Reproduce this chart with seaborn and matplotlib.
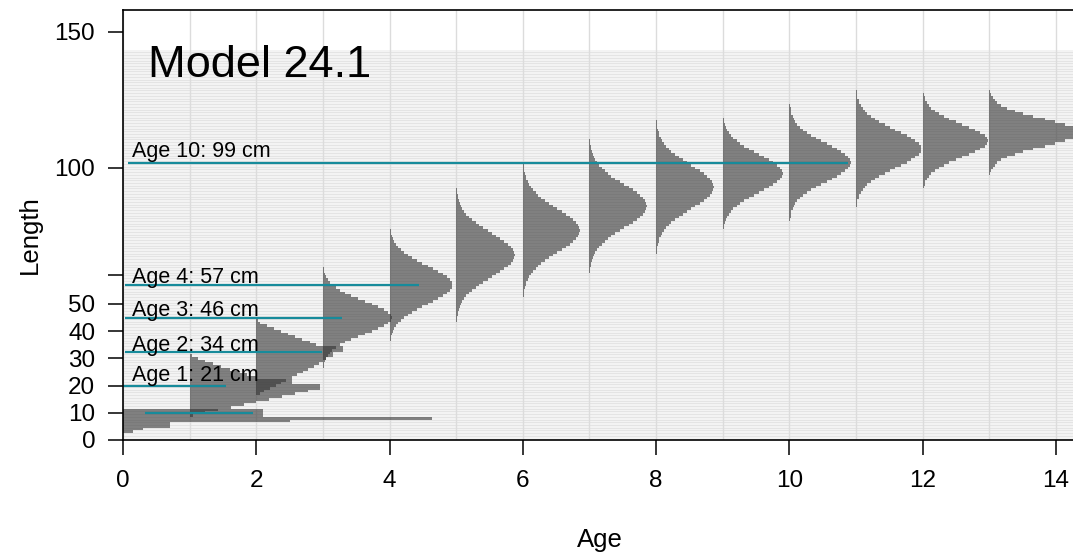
import matplotlib
matplotlib.use("Agg")
import matplotlib.pyplot as plt
import numpy as np
import pandas as pd
import seaborn as sns

# ---------------- data ----------------
ages = list(range(14))
# length (cm) of the first 1-cm bin of each age's length distribution
first_bin = [3, 9, 17, 27, 36, 44, 53, 62, 69, 77, 81, 86, 92, 98]

age0 = [0.15, 0.30, 0.70, 0.70, 2.50, 4.64, 2.10, 2.10, 2.10]
age1 = [0.05, 0.23, 0.42, 0.62, 0.81, 1.00, 1.19, 1.38, 1.58, 1.77, 1.96, 1.96,
        1.54, 1.54, 1.00, 0.86, 0.73, 0.60, 0.47, 0.35, 0.23, 0.12, 0.04]
age2 = [0.05, 0.12, 0.20, 0.29, 0.37, 0.45, 0.53, 0.61, 0.70, 0.78, 0.86, 0.94,
        1.00, 1.05, 1.15, 1.15, 1.30, 1.30, 0.90, 0.80, 0.69, 0.58, 0.47, 0.37,
        0.26, 0.16, 0.06, 0.03]
age3 = [0.01, 0.02, 0.03, 0.05, 0.07, 0.10, 0.14, 0.19, 0.26, 0.33, 0.42, 0.52,
        0.63, 0.73, 0.83, 0.91, 0.97, 1.02, 1.03, 1.02, 0.97, 0.91, 0.83, 0.73,
        0.63, 0.52, 0.42, 0.33, 0.26, 0.19, 0.14, 0.10, 0.07, 0.05, 0.03, 0.02,
        0.01]
age4 = [0.01, 0.02, 0.02, 0.03, 0.05, 0.07, 0.09, 0.13, 0.17, 0.22, 0.27, 0.34,
        0.41, 0.49, 0.57, 0.65, 0.73, 0.80, 0.86, 0.90, 0.93, 0.94, 0.93, 0.90,
        0.86, 0.80, 0.73, 0.65, 0.57, 0.49, 0.41, 0.34, 0.27, 0.22, 0.17, 0.13,
        0.09, 0.07, 0.05, 0.03, 0.02, 0.02, 0.01]
age5 = [0.01, 0.01, 0.02, 0.03, 0.04, 0.05, 0.07, 0.09, 0.12, 0.15, 0.19, 0.23,
        0.29, 0.34, 0.40, 0.47, 0.53, 0.60, 0.66, 0.72, 0.78, 0.82, 0.85, 0.87,
        0.88, 0.87, 0.85, 0.82, 0.78, 0.72, 0.66, 0.60, 0.53, 0.47, 0.40, 0.34,
        0.29, 0.23, 0.19, 0.15, 0.12, 0.09, 0.07, 0.05, 0.04, 0.03, 0.02, 0.01,
        0.01]
age6 = [0.01, 0.01, 0.02, 0.03, 0.04, 0.05, 0.07, 0.09, 0.12, 0.15, 0.19, 0.23,
        0.28, 0.33, 0.39, 0.46, 0.52, 0.59, 0.65, 0.71, 0.76, 0.80, 0.83, 0.85,
        0.86, 0.85, 0.83, 0.80, 0.76, 0.71, 0.65, 0.59, 0.52, 0.46, 0.39, 0.33,
        0.28, 0.23, 0.19, 0.15, 0.12, 0.09, 0.07, 0.05, 0.04, 0.03, 0.02, 0.01,
        0.01]
age7 = [0.01, 0.01, 0.02, 0.03, 0.04, 0.05, 0.07, 0.09, 0.12, 0.15, 0.19, 0.23,
        0.28, 0.33, 0.39, 0.46, 0.52, 0.59, 0.65, 0.71, 0.76, 0.80, 0.83, 0.85,
        0.86, 0.85, 0.83, 0.80, 0.76, 0.71, 0.65, 0.59, 0.52, 0.46, 0.39, 0.33,
        0.28, 0.23, 0.19, 0.15, 0.12, 0.09, 0.07, 0.05, 0.04, 0.03, 0.02, 0.01,
        0.01]
age8 = [0.01, 0.01, 0.02, 0.03, 0.04, 0.05, 0.07, 0.09, 0.12, 0.15, 0.19, 0.23,
        0.28, 0.34, 0.40, 0.46, 0.53, 0.59, 0.66, 0.72, 0.77, 0.81, 0.84, 0.86,
        0.87, 0.86, 0.84, 0.81, 0.77, 0.72, 0.66, 0.59, 0.53, 0.46, 0.40, 0.34,
        0.28, 0.23, 0.19, 0.15, 0.12, 0.09, 0.07, 0.05, 0.04, 0.03, 0.02, 0.01,
        0.01]
age9 = [0.01, 0.02, 0.02, 0.03, 0.05, 0.07, 0.09, 0.12, 0.16, 0.21, 0.26, 0.32,
        0.39, 0.47, 0.55, 0.62, 0.70, 0.76, 0.82, 0.86, 0.89, 0.90, 0.89, 0.86,
        0.82, 0.76, 0.70, 0.62, 0.55, 0.47, 0.39, 0.32, 0.26, 0.21, 0.16, 0.12,
        0.09, 0.07, 0.05, 0.03, 0.02, 0.02, 0.01]
age10 = [0.01, 0.02, 0.02, 0.03, 0.05, 0.07, 0.09, 0.12, 0.16, 0.21, 0.27, 0.33,
         0.40, 0.48, 0.56, 0.64, 0.71, 0.78, 0.84, 0.88, 0.91, 0.92, 0.91, 0.88,
         0.84, 0.78, 0.71, 0.64, 0.56, 0.48, 0.40, 0.33, 0.27, 0.21, 0.16, 0.12,
         0.09, 0.07, 0.05, 0.03, 0.02, 0.02, 0.01]
age11 = [0.01, 0.02, 0.02, 0.04, 0.05, 0.07, 0.10, 0.13, 0.17, 0.23, 0.29, 0.35,
         0.43, 0.51, 0.59, 0.68, 0.76, 0.83, 0.89, 0.94, 0.97, 0.98, 0.97, 0.94,
         0.89, 0.83, 0.76, 0.68, 0.59, 0.51, 0.43, 0.35, 0.29, 0.23, 0.17, 0.13,
         0.10, 0.07, 0.05, 0.04, 0.02, 0.02, 0.01]
age12 = [0.01, 0.02, 0.03, 0.04, 0.06, 0.09, 0.13, 0.18, 0.24, 0.32, 0.40, 0.50,
         0.59, 0.69, 0.78, 0.86, 0.93, 0.97, 0.98, 0.97, 0.93, 0.86, 0.78, 0.69,
         0.59, 0.50, 0.40, 0.32, 0.24, 0.18, 0.13, 0.09, 0.06, 0.04, 0.03, 0.02,
         0.01]
age13 = [0.01, 0.03, 0.05, 0.08, 0.12, 0.18, 0.27, 0.38, 0.51, 0.66, 0.83, 0.99,
         1.14, 1.26, 1.33, 1.36, 1.33, 1.26, 1.14, 0.99, 0.83, 0.66, 0.51, 0.38,
         0.27, 0.18, 0.12, 0.08, 0.05, 0.03, 0.01]
widths_by_age = [age0, age1, age2, age3, age4, age5, age6, age7, age8, age9,
                 age10, age11, age12, age13]

# annotated mean length-at-age lines
label_text = ["Age 1: 21 cm", "Age 2: 34 cm", "Age 3: 46 cm", "Age 4: 57 cm",
              "Age 10: 99 cm"]
label_text_len = [21.7, 32.7, 45.6, 57.8, 103.9]
label_line_len = [20.0, 32.4, 44.9, 57.0, 101.7]
label_line_start = [0.0, 0.03, 0.03, 0.03, 0.08]
label_line_end = [1.55, 2.99, 3.29, 4.44, 10.88]
extra_line_len = [10.0]
extra_line_start = [0.33]
extra_line_end = [1.95]

ytick_values = [0, 10, 20, 30, 40, 50, 60.6, 100, 150]
ytick_labels = ["0", "10", "20", "30", "40", "50", "", "100", "150"]
teal_ticks = [10, 20, 30, 40, 60.6]
xtick_values = [0, 2, 4, 6, 8, 10, 12, 14]

# long table
rows = []
for a, start, ws in zip(ages, first_bin, widths_by_age):
    for i, w in enumerate(ws):
        rows.append((a, start + i, w))
df = pd.DataFrame(rows, columns=["age", "length", "width"])

# ---------------- style ----------------
sns.set_theme(style="ticks")
plt.rcParams["font.family"] = ["Liberation Sans", "DejaVu Sans"]
plt.rcParams.update({"text.color": "black", "axes.labelcolor": "black",
                     "xtick.color": "black", "ytick.color": "black",
                     "axes.edgecolor": "black"})

TEAL = "#178b9b"
W, H = 1073, 555
fig = plt.figure(figsize=(W / 100, H / 100), dpi=100)
ax = fig.add_axes([123 / W, 115 / H, 950 / W, 430 / H])

XMAX = 950 / 66.64
YMAX = 430 / 2.72
ax.set_xlim(0, XMAX)
ax.set_ylim(0, YMAX)

# background: striped bin area and vertical age grid
ax.axhspan(0, 143.5, color="#f3f3f3", lw=0, zorder=0)
ax.hlines(np.arange(0.5, 143.5, 1.0), 0, XMAX, color="#e2e2e2", lw=0.6, zorder=0.1)
ax.vlines(range(15), 0, YMAX, color="#dcdcdc", lw=1.0, zorder=0.2)

# length distributions at each age
for a, sub in df.groupby("age"):
    ax.barh(sub["length"], sub["width"], left=a, height=1.0,
            color="#333333", alpha=0.6, linewidth=0, zorder=2)

# annotation lines and labels
ax.hlines(label_line_len, label_line_start, label_line_end, color=TEAL, lw=1.6, zorder=4)
ax.hlines(extra_line_len, extra_line_start, extra_line_end, color=TEAL, lw=1.6, zorder=4)
for t, yl in zip(label_text, label_text_len):
    ax.text(0.14, yl, t, fontsize=15.5, va="baseline", ha="left", color="black", zorder=5)

ax.text(0.38, 133.5, "Model 24.1", fontsize=32.5, va="baseline", ha="left",
        color="black", zorder=5)

# axes, ticks
ax.set_xticks(xtick_values)
ax.set_xticklabels([str(v) for v in xtick_values])
ax.set_yticks(ytick_values)
ax.set_yticklabels(ytick_labels)
ax.tick_params(axis="both", direction="out", length=11, width=1.1, colors="black",
               labelsize=17.5, labelcolor="black")
ax.tick_params(axis="x", pad=10.5)
ax.tick_params(axis="y", pad=9)
for tv, tk in zip(ytick_values, ax.yaxis.get_major_ticks()):
    if tv in teal_ticks:
        tk.tick1line.set_color(TEAL)

sns.despine(ax=ax, top=False, right=True)
for s in ["left", "top", "bottom"]:
    ax.spines[s].set_linewidth(1.2)
    ax.spines[s].set_color("black")
    ax.spines[s].set_zorder(6)

fig.text(600 / W, 1 - 540 / H, "Age", ha="center", va="center", fontsize=18.5,
         color="black")
fig.text(30 / W, 1 - 235 / H, "Length", ha="center", va="center", fontsize=18.5,
         rotation=90, color="black")

fig.savefig("out.png", dpi=100)
